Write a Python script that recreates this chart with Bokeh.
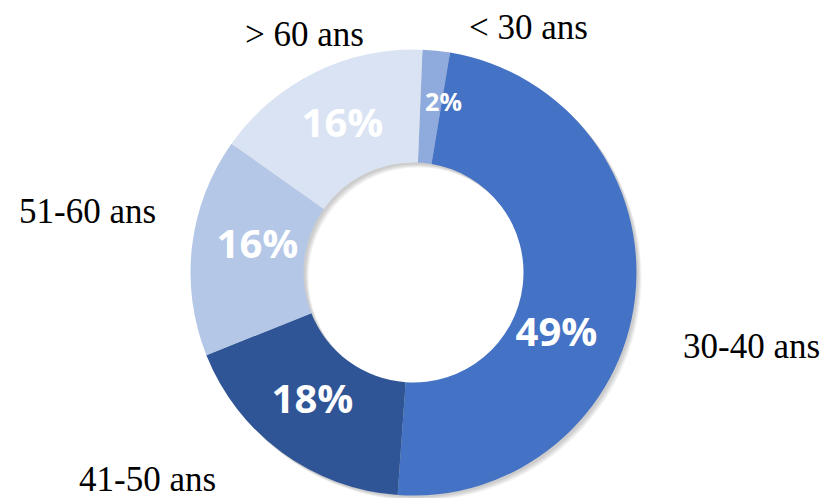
import numpy as np
from bokeh.plotting import figure
from bokeh.models import ColumnDataSource, Range1d
from bokeh.core.properties import value
from bokeh.embed import file_html
from bokeh.resources import INLINE

# ---- data ----
categories = ["< 30 ans", "30-40 ans", "41-50 ans", "51-60 ans", "> 60 ans"]
values = [2, 49, 18, 16, 16]
pct_labels = ["2%", "49%", "18%", "16%", "16%"]

# ---- style ----
colors = ["#8FAADC", "#4472C4", "#2F5597", "#B4C7E7", "#DAE3F3"]
first_slice_deg = 2.3

W, H = 825, 498
def sy(y):  # screen y -> data y
    return H - y

cx, cy = 413, sy(272)
r_in, r_out = 110, 223

frac = np.array(values, dtype=float) / sum(values)
cw_start = np.radians(first_slice_deg) + 2 * np.pi * np.concatenate([[0], np.cumsum(frac)[:-1]])
cw_end = cw_start + 2 * np.pi * frac
src = ColumnDataSource(dict(
    start=np.pi / 2 - cw_end,
    end=np.pi / 2 - cw_start,
    color=colors,
    cat=categories,
))

p = figure(width=W, height=H, x_range=Range1d(0, W), y_range=Range1d(0, H),
           output_backend="svg", toolbar_location=None, min_border=0)
p.axis.visible = False
p.grid.visible = False
p.outline_line_color = None
p.background_fill_color = "white"
p.border_fill_color = "white"

# soft shadow
for d in (2, 3, 4, 5):
    p.annulus(x=cx + d, y=cy - d, inner_radius=r_in, outer_radius=r_out,
              fill_color="black", fill_alpha=0.05, line_color=None)

p.annular_wedge(x=cx, y=cy, inner_radius=r_in, outer_radius=r_out,
                start_angle="start", end_angle="end", fill_color="color",
                line_color=None, source=src)

# category labels (outside)
cat_x = [528, 751, 147, 87, 304]
cat_y = [sy(27), sy(346), sy(479), sy(211), sy(34)]
p.text(x=cat_x, y=cat_y, text=categories, text_font=value("Liberation Serif"),
       text_font_size="35px", text_color="black", text_align="center",
       text_baseline="alphabetic")

# percentage labels
pct_x = [443, 556, 312, 257, 342]
pct_y = [sy(100), sy(330), sy(397), sy(242), sy(121)]
pct_size = ["25px", "40px", "40px", "40px", "40px"]
p.text(x=pct_x, y=pct_y, text=pct_labels, text_font=value("Open Sans"),
       text_font_style="bold", text_font_size=pct_size, text_color="white",
       text_align="center", text_baseline="alphabetic")

open("out.html", "w").write(file_html(p, INLINE))
